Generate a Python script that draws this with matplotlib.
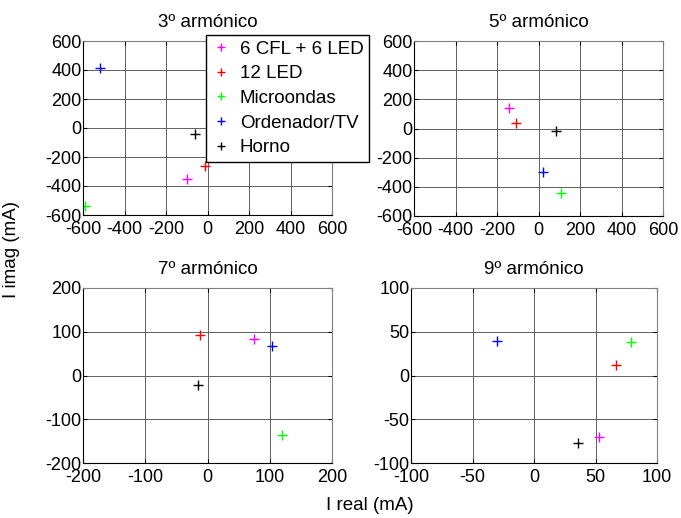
import matplotlib.pyplot as plt

plt.rcParams['font.family'] = ['Liberation Sans', 'DejaVu Sans']
plt.rcParams['font.size'] = 13
plt.rcParams['axes.unicode_minus'] = False

series = ['6 CFL + 6 LED', '12 LED', 'Microondas', 'Ordenador/TV', 'Horno']
colors = ['#ff00ff', '#ff0000', '#00ff00', '#0000ff', '#000000']

titles = ['3º armónico', '5º armónico', '7º armónico', '9º armónico']

# (real, imag) in mA, one entry per series
h3_re = [-100, -10, -590, -520, -60]
h3_im = [-350, -260, -540, 415, -40]
h5_re = [-140, -110, 110, 20, 85]
h5_im = [140, 35, -440, -300, -15]
h7_re = [75, -12, 120, 103, -15]
h7_im = [83, 92, -137, 68, -22]
h9_re = [53, 67, 79, -30, 36]
h9_im = [-70, 12, 38, 39, -77]

limits = [600, 600, 200, 100]
ticks = [
    [-600, -400, -200, 0, 200, 400, 600],
    [-600, -400, -200, 0, 200, 400, 600],
    [-200, -100, 0, 100, 200],
    [-100, -50, 0, 50, 100],
]
data = [(h3_re, h3_im), (h5_re, h5_im), (h7_re, h7_im), (h9_re, h9_im)]

W, H = 681, 518
fig = plt.figure(figsize=(W / 100, H / 100), dpi=100)

# axes boxes in pixels: left, top, right, bottom
boxes = [(83, 41, 332, 215), (414, 41, 663, 216), (83, 288, 332, 463), (411, 288, 657, 463)]

axes = []
for i, (l, t, r, b) in enumerate(boxes):
    ax = fig.add_axes([l / W, 1 - b / H, (r - l) / W, (b - t) / H])
    re, im = data[i]
    for j in range(len(series)):
        ax.plot(re[j], im[j], '+', color=colors[j], markersize=7, mew=1.0,
                label=series[j])
    lim = limits[i]
    ax.set_xlim(-lim, lim)
    ax.set_ylim(-lim, lim)
    ax.set_xticks(ticks[i])
    ax.set_yticks(ticks[i])
    ax.grid(True, color='#606060', linewidth=0.7)
    ax.set_axisbelow(True)
    ax.tick_params(direction='in', length=3, width=0.8, top=True, right=True,
                   labelsize=13)
    ax.tick_params(axis='x', pad=4)
    ax.tick_params(axis='y', pad=1)
    ax.spines['left'].set_color('black')
    ax.spines['bottom'].set_color('black')
    ax.spines['top'].set_color('#808080')
    ax.spines['right'].set_color('#808080')
    ax.set_title(titles[i], fontsize=13.5, pad=10)
    axes.append(ax)

leg = axes[0].legend(loc='upper left', bbox_to_anchor=(206 / W, 1 - 35 / H),
                     bbox_transform=fig.transFigure, fontsize=13.5, frameon=True,
                     fancybox=False, edgecolor='black', framealpha=1,
                     handlelength=1.0, handletextpad=0.5, borderpad=0.3,
                     labelspacing=0.4, borderaxespad=0, markerscale=0.8)
leg.get_frame().set_linewidth(1.0)
leg.set_zorder(10)

fig.text(370 / W, 1 - 505 / H, 'I real (mA)', ha='center', va='center', fontsize=13.5)
fig.text(12 / W, 1 - 250 / H, 'I imag (mA)', ha='center', va='center',
         rotation=90, fontsize=13.5)

fig.savefig('out.png', dpi=100)
